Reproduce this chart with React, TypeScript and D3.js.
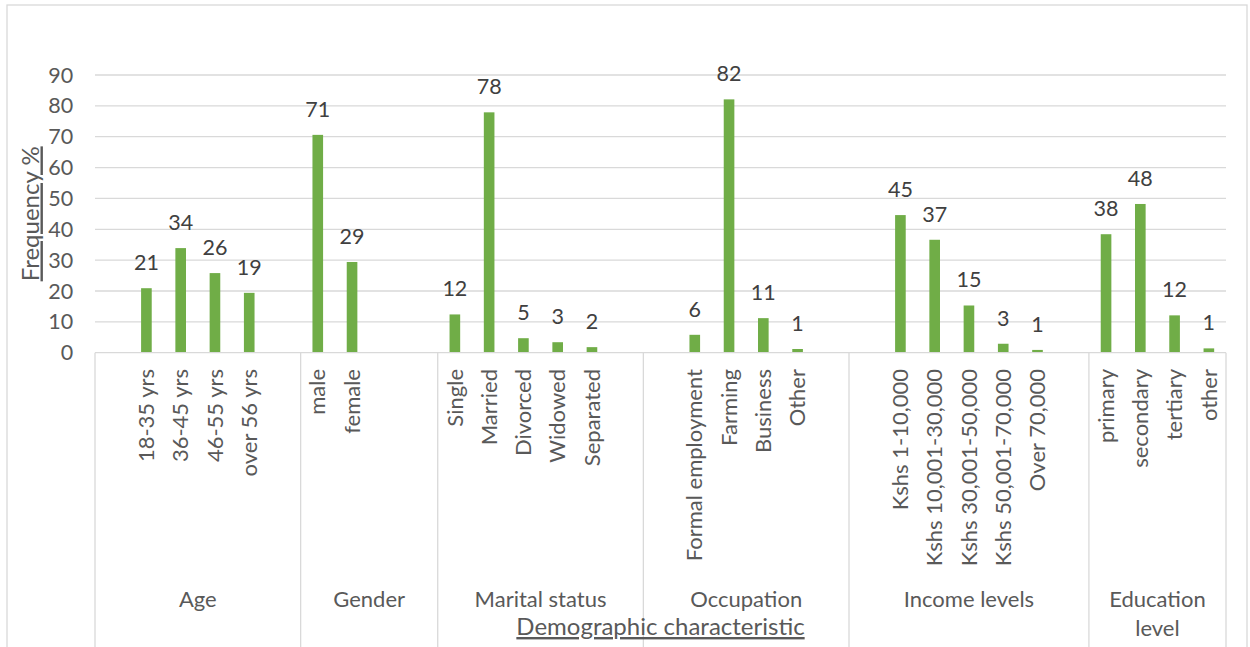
import React from "react";
import * as d3 from "d3";

// ---- Data ----
const groupNames = ["Age", "Gender", "Marital status", "Occupation", "Income levels", "Education level"];
const groupSizes = [6, 4, 6, 6, 7, 4];
const categories = [
  "", "18-35 yrs", "36-45 yrs", "46-55 yrs", "over 56 yrs", "",
  "male", "female", "", "",
  "Single", "Married", "Divorced", "Widowed", "Separated", "",
  "", "Formal employment", "Farming", "Business", "Other", "",
  "", "Kshs 1-10,000", "Kshs 10,001-30,000", "Kshs 30,001-50,000", "Kshs 50,001-70,000", "Over 70,000", "",
  "primary", "secondary", "tertiary", "other",
];
const values: (number | null)[] = [
  null, 20.9, 33.9, 25.8, 19.4, null,
  70.6, 29.4, null, null,
  12.4, 77.9, 4.7, 3.4, 1.8, null,
  null, 5.8, 82.1, 11.2, 1.2, null,
  null, 44.6, 36.6, 15.3, 2.9, 0.9, null,
  38.4, 48.2, 12.1, 1.4,
];
const yTicks = [0, 10, 20, 30, 40, 50, 60, 70, 80, 90];
const yTitle = "Frequency %";
const xTitle = "Demographic characteristic";

// ---- Layout ----
const W = 1250;
const H = 647;
const left = 95;
const right = 1226;
const top = 75;
const base = 352.7;

const FONT = "Lato, 'Open Sans', sans-serif";
const GRID = "#d9d9d9";
const TXT = "#595959";
const BAR = "#70ad47";

export default function App() {
  const idx = categories.map((_, i) => String(i));
  const x = d3
    .scaleBand<string>()
    .domain(idx)
    .range([left, right])
    .paddingInner(0.69)
    .paddingOuter(0.345);
  const step = x.step();
  const y = d3.scaleLinear().domain([0, 90]).range([base, top]);
  const fmt = d3.format(".0f");

  // group boundaries
  const bounds: number[] = [left];
  let acc = 0;
  groupSizes.forEach((s) => {
    acc += s;
    bounds.push(left + acc * step);
  });

  const slotCenter = (i: number) => (x(String(i)) as number) + x.bandwidth() / 2;

  return (
    <svg
      width={W}
      height={H}
      style={{ position: "absolute", left: 0, top: 0, background: "#fff" }}
      fontFamily={FONT}
    >
      <rect x={0} y={0} width={W} height={H} fill="#fff" />
      <rect x={7} y={5} width={1240} height={700} fill="none" stroke={GRID} strokeWidth={1.3} />

      {/* gridlines */}
      {yTicks.filter((t) => t > 0).map((t) => (
        <line key={"g" + t} x1={left} x2={right} y1={y(t)} y2={y(t)} stroke={GRID} strokeWidth={1.3} />
      ))}
      {/* y tick labels */}
      {yTicks.map((t) => (
        <text key={"t" + t} x={73.3} y={y(t)} dy="0.35em" textAnchor="end" fontSize={21.5} fill={TXT}>
          {t}
        </text>
      ))}

      {/* bars */}
      {values.map((v, i) =>
        v == null ? null : (
          <rect
            key={"b" + i}
            x={x(String(i))}
            y={y(v)}
            width={x.bandwidth()}
            height={base - y(v)}
            fill={BAR}
          />
        )
      )}
      {/* data labels */}
      {values.map((v, i) =>
        v == null ? null : (
          <text key={"l" + i} x={slotCenter(i)} y={y(v) - 18} textAnchor="middle" fontSize={21.5} fill="#404040">
            {fmt(v)}
          </text>
        )
      )}

      {/* x axis line */}
      <line x1={left} x2={right} y1={base} y2={base} stroke={GRID} strokeWidth={1.3} />
      {/* group separators */}
      {bounds.map((b, i) => (
        <line key={"s" + i} x1={b} x2={b} y1={base} y2={H + 10} stroke={GRID} strokeWidth={1.3} />
      ))}

      {/* category labels */}
      {categories.map((c, i) =>
        c === "" ? null : (
          <text
            key={"c" + i}
            transform={`translate(${slotCenter(i)},369) rotate(-90)`}
            dy="0.35em"
            textAnchor="end"
            fontSize={22}
            fill={TXT}
          >
            {c}
          </text>
        )
      )}

      {/* group labels */}
      {groupNames.map((g, i) => {
        const cx = (bounds[i] + bounds[i + 1]) / 2;
        const words = g === "Education level" ? ["Education", "level"] : [g];
        return (
          <text key={"gn" + i} x={cx} y={606.5} textAnchor="middle" fontSize={22} fill={TXT}>
            {words.map((w, k) => (
              <tspan key={k} x={cx} dy={k === 0 ? 0 : 29}>
                {w}
              </tspan>
            ))}
          </text>
        );
      })}

      {/* axis titles */}
      <text
        transform={`translate(38.5,${(top + base) / 2}) rotate(-90)`}
        textAnchor="middle"
        fontSize={24}
        fill={TXT}
        style={{ textDecoration: "underline" }}
      >
        {yTitle}
      </text>
      <text
        x={(left + right) / 2}
        y={635}
        textAnchor="middle"
        fontSize={24}
        fill={TXT}
        style={{ textDecoration: "underline" }}
      >
        {xTitle}
      </text>
    </svg>
  );
}
